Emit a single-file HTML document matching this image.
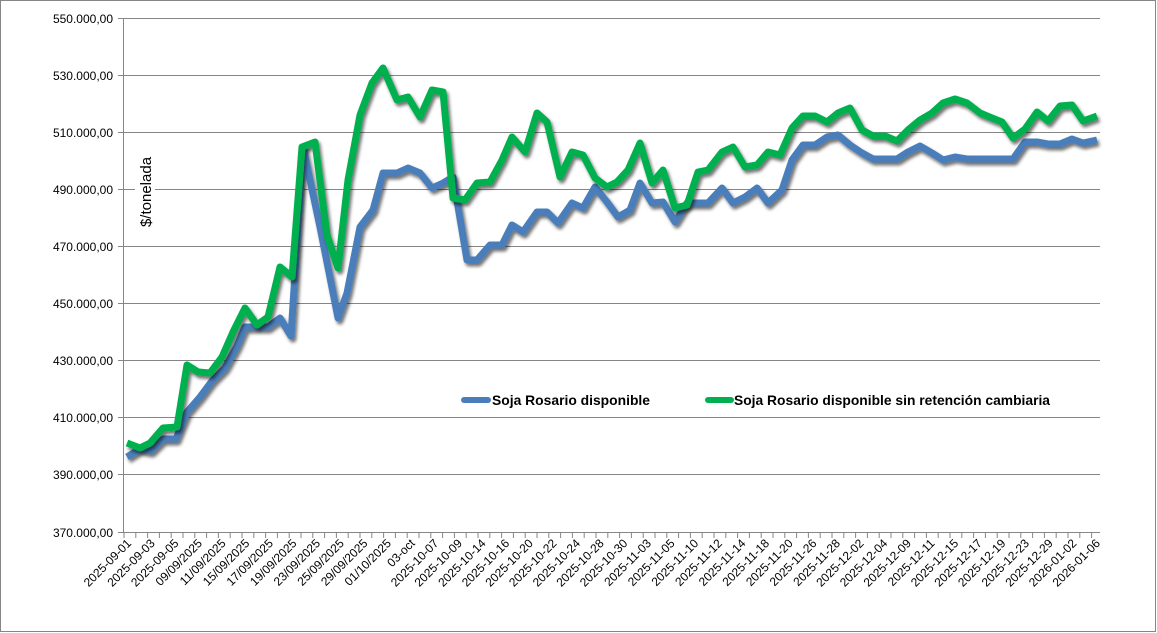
<!DOCTYPE html>
<html><head><meta charset="utf-8"><style>
html,body{margin:0;padding:0;background:#fff}
svg{display:block;font-family:"Liberation Sans",Arial,sans-serif}
</style></head><body>
<svg width="1157" height="633" viewBox="0 0 1157 633" xmlns="http://www.w3.org/2000/svg">
<defs><filter id="sh" x="-5%" y="-5%" width="110%" height="120%"><feDropShadow dx="2" dy="3" stdDeviation="1.5" flood-color="#000" flood-opacity="0.55"/></filter></defs>
<rect x="0.5" y="0.5" width="1155" height="631" fill="#fff" stroke="#868686"/>
<g stroke="#868686" stroke-width="1">
<line x1="118" y1="18.5" x2="1100" y2="18.5"/>
<line x1="118" y1="75.5" x2="1100" y2="75.5"/>
<line x1="118" y1="132.5" x2="1100" y2="132.5"/>
<line x1="118" y1="189.5" x2="1100" y2="189.5"/>
<line x1="118" y1="246.5" x2="1100" y2="246.5"/>
<line x1="118" y1="303.5" x2="1100" y2="303.5"/>
<line x1="118" y1="360.5" x2="1100" y2="360.5"/>
<line x1="118" y1="417.5" x2="1100" y2="417.5"/>
<line x1="118" y1="474.5" x2="1100" y2="474.5"/>
<line x1="118" y1="532.5" x2="1100" y2="532.5"/>
<line x1="123.5" y1="18" x2="123.5" y2="532"/>
</g>
<g stroke="#868686" stroke-dasharray="1 10.8" stroke-width="1"><line x1="123.5" y1="535" x2="1100" y2="535" stroke-width="6"/></g>
<g font-size="12" fill="#000" text-anchor="end">
<text x="113" y="23">550.000,00</text>
<text x="113" y="80">530.000,00</text>
<text x="113" y="137">510.000,00</text>
<text x="113" y="194">490.000,00</text>
<text x="113" y="251">470.000,00</text>
<text x="113" y="308">450.000,00</text>
<text x="113" y="365">430.000,00</text>
<text x="113" y="422">410.000,00</text>
<text x="113" y="479">390.000,00</text>
<text x="113" y="537">370.000,00</text>
</g>
<rect x="135" y="148" width="20" height="88" fill="#fff"/>
<text transform="translate(151,192) rotate(-90)" font-size="15" text-anchor="middle">$/tonelada</text>
<polyline filter="url(#sh)" fill="none" stroke="#4a7ebb" stroke-width="7" stroke-linejoin="round" points="127,457 140,449 151,451 163,439 176,439 187,412 200,397 212,381 225,368 237,346 245,327 258,327 268,327 280,318 291,336 303,147 320,227 338,318 347,293 360,227 373,210 383,173 397,173 408,168 420,173 432,188 443,183 453,177 467,260 477,260 490,245 502,245 512,225 523,232 537,212 547,212 558,223 572,203 583,208 595,187 607,202 618,217 630,210 640,183 652,203 663,202 675,222 687,203 697,203 708,203 722,188 733,203 745,197 757,188 768,203 782,190 792,160 803,145 815,145 827,137 838,135 850,145 862,153 873,159 885,159 897,159 908,152 920,146 932,153 943,160 955,157 967,159 980,159 1003,159 1013,159 1025,142 1037,142 1048,144 1060,144 1072,139 1083,143 1097,140"/>
<polyline filter="url(#sh)" fill="none" stroke="#00b050" stroke-width="7" stroke-linejoin="round" points="127,443 140,448 150,443 163,428 177,427 187,365 198,372 210,373 222,357 233,332 245,308 257,325 268,317 280,267 292,277 302,147 315,142 327,235 338,268 348,180 360,115 372,83 383,68 397,100 408,97 420,117 432,90 443,92 453,198 465,200 477,183 490,182 502,160 512,137 525,152 537,113 547,122 560,177 572,152 583,155 595,178 607,187 617,182 628,170 640,143 652,183 663,170 675,208 687,205 698,172 708,170 722,152 733,147 745,167 757,165 768,152 780,155 792,128 803,116 815,116 827,122 838,113 850,108 862,130 873,136 885,136 897,141 908,130 920,120 932,113 943,103 955,99 967,103 980,113 992,118 1002,122 1013,138 1025,129 1037,112 1048,121 1060,106 1072,105 1083,121 1097,116"/>
<line x1="464" y1="400" x2="488" y2="400" stroke="#4a7ebb" stroke-width="6" stroke-linecap="round"/>
<text x="492" y="405" font-size="14" font-weight="bold" textLength="158" lengthAdjust="spacingAndGlyphs">Soja Rosario disponible</text>
<line x1="708" y1="400" x2="731" y2="400" stroke="#00b050" stroke-width="6" stroke-linecap="round"/>
<text x="734" y="405" font-size="14" font-weight="bold" textLength="316" lengthAdjust="spacingAndGlyphs">Soja Rosario disponible sin retención cambiaria</text>
<g font-size="12" text-anchor="end">
<text transform="translate(132,544) rotate(-45)">2025-09-01</text>
<text transform="translate(155.6,544) rotate(-45)">2025-09-03</text>
<text transform="translate(179.3,544) rotate(-45)">2025-09-05</text>
<text transform="translate(202.9,544) rotate(-45)">09/09/2025</text>
<text transform="translate(226.5,544) rotate(-45)">11/09/2025</text>
<text transform="translate(250.2,544) rotate(-45)">15/09/2025</text>
<text transform="translate(273.8,544) rotate(-45)">17/09/2025</text>
<text transform="translate(297.4,544) rotate(-45)">19/09/2025</text>
<text transform="translate(321,544) rotate(-45)">23/09/2025</text>
<text transform="translate(344.7,544) rotate(-45)">25/09/2025</text>
<text transform="translate(368.3,544) rotate(-45)">29/09/2025</text>
<text transform="translate(391.9,544) rotate(-45)">01/10/2025</text>
<text transform="translate(415.6,544) rotate(-45)">03-oct</text>
<text transform="translate(439.2,544) rotate(-45)">2025-10-07</text>
<text transform="translate(462.8,544) rotate(-45)">2025-10-09</text>
<text transform="translate(486.5,544) rotate(-45)">2025-10-14</text>
<text transform="translate(510.1,544) rotate(-45)">2025-10-16</text>
<text transform="translate(533.7,544) rotate(-45)">2025-10-20</text>
<text transform="translate(557.3,544) rotate(-45)">2025-10-22</text>
<text transform="translate(581,544) rotate(-45)">2025-10-24</text>
<text transform="translate(604.6,544) rotate(-45)">2025-10-28</text>
<text transform="translate(628.2,544) rotate(-45)">2025-10-30</text>
<text transform="translate(651.9,544) rotate(-45)">2025-11-03</text>
<text transform="translate(675.5,544) rotate(-45)">2025-11-05</text>
<text transform="translate(699.1,544) rotate(-45)">2025-11-10</text>
<text transform="translate(722.8,544) rotate(-45)">2025-11-12</text>
<text transform="translate(746.4,544) rotate(-45)">2025-11-14</text>
<text transform="translate(770,544) rotate(-45)">2025-11-18</text>
<text transform="translate(793.6,544) rotate(-45)">2025-11-20</text>
<text transform="translate(817.3,544) rotate(-45)">2025-11-26</text>
<text transform="translate(840.9,544) rotate(-45)">2025-11-28</text>
<text transform="translate(864.5,544) rotate(-45)">2025-12-02</text>
<text transform="translate(888.2,544) rotate(-45)">2025-12-04</text>
<text transform="translate(911.8,544) rotate(-45)">2025-12-09</text>
<text transform="translate(935.4,544) rotate(-45)">2025-12-11</text>
<text transform="translate(959.1,544) rotate(-45)">2025-12-15</text>
<text transform="translate(982.7,544) rotate(-45)">2025-12-17</text>
<text transform="translate(1006.3,544) rotate(-45)">2025-12-19</text>
<text transform="translate(1029.9,544) rotate(-45)">2025-12-23</text>
<text transform="translate(1053.6,544) rotate(-45)">2025-12-29</text>
<text transform="translate(1077.2,544) rotate(-45)">2026-01-02</text>
<text transform="translate(1100.8,544) rotate(-45)">2026-01-06</text>
</g>
</svg>
</body></html>
